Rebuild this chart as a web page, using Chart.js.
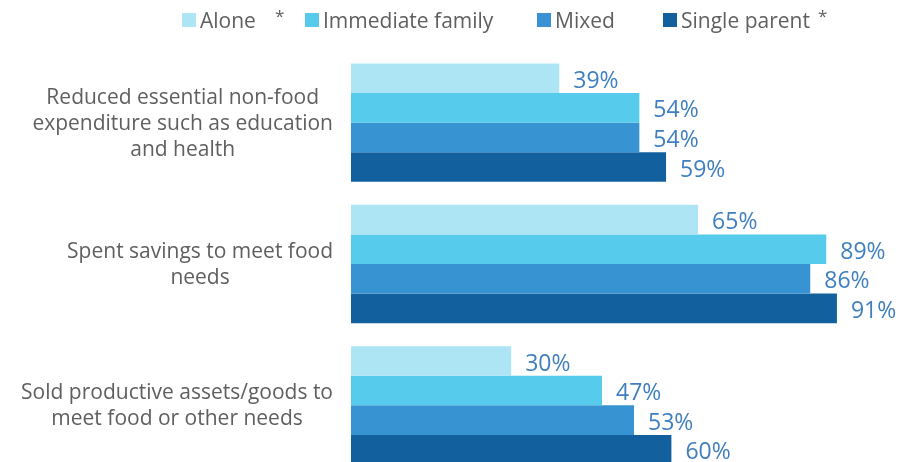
<!DOCTYPE html>
<html>
<head>
<meta charset="utf-8">
<script src="https://cdn.jsdelivr.net/npm/chart.js@4.4.0/dist/chart.umd.min.js"></script>
<style>
    html, body { margin: 0; padding: 0; background: #fff; overflow: hidden; }
    #wrap { position: relative; width: 914px; height: 476px; }
    #legend { position: absolute; top: 0; left: 0; width: 914px; height: 40px;
              font-family: 'Open Sans', sans-serif; font-size: 21px; color: #5f5f5f; }
    .legend-item { position: absolute; top: 0; height: 40px; display: flex; align-items: center; white-space: nowrap; }
    .legend-box { width: 14px; height: 14px; margin-right: 4px; }
    .legend-star { position: relative; top: -5px; font-size: 17px; }
</style>
</head>
<body>
<div id="wrap">
    <canvas id="chart" width="914" height="476"></canvas>
    <div id="legend"></div>
</div>
<script>
// ===== data =====
const categories = [
    ['Reduced essential non-food', 'expenditure such as education', 'and health'],
    ['Spent savings to meet food', 'needs'],
    ['Sold productive assets/goods to', 'meet food or other needs']
];
const seriesNames = ['Alone', 'Immediate family', 'Mixed', 'Single parent'];
const seriesStars = [true, false, false, true];
const aloneValues = [39, 65, 30];
const familyValues = [54, 89, 47];
const mixedValues = [54, 86, 53];
const singleParentValues = [59, 91, 60];

const seriesColors = ['#ade5f5', '#57cbec', '#3893d2', '#13609e'];

// ===== legend (html) =====
const legendLeft = [182, 305, 537, 663];
const starGap = [19, 0, 0, 8];
const legendEl = document.getElementById('legend');
seriesNames.forEach((name, i) => {
    const item = document.createElement('div');
    item.className = 'legend-item';
    item.style.left = legendLeft[i] + 'px';
    let html = `<div class="legend-box" style="background:${seriesColors[i]}"></div><span>${name}</span>`;
    if (seriesStars[i]) {
        html += `<span class="legend-star" style="margin-left:${starGap[i]}px">*</span>`;
    }
    item.innerHTML = html;
    legendEl.appendChild(item);
});

// value labels at the end of each bar
const valueLabels = {
    id: 'valueLabels',
    afterDatasetsDraw(chart) {
        const ctx = chart.ctx;
        ctx.save();
        ctx.font = '23px "Open Sans"';
        ctx.fillStyle = '#3f7fbf';
        ctx.textAlign = 'left';
        ctx.textBaseline = 'middle';
        chart.data.datasets.forEach((ds, i) => {
            chart.getDatasetMeta(i).data.forEach((bar, j) => {
                ctx.fillText(ds.data[j] + '%', bar.x + 14, bar.y + 3);
            });
        });
        ctx.restore();
    }
};

// category labels: each block right aligned, lines centred inside it
const categoryLabels = {
    id: 'categoryLabels',
    afterDraw(chart) {
        const ctx = chart.ctx;
        const yScale = chart.scales.y;
        const right = chart.chartArea.left - 18;
        ctx.save();
        ctx.font = '21px "Open Sans"';
        ctx.fillStyle = '#5f5f5f';
        ctx.textAlign = 'center';
        ctx.textBaseline = 'middle';
        categories.forEach((lines, i) => {
            const cy = yScale.getPixelForValue(i);
            const w = Math.max(...lines.map(l => ctx.measureText(l).width));
            const cx = right - w / 2;
            const top = cy - (lines.length - 1) * 13 + 1;
            lines.forEach((l, k) => ctx.fillText(l, cx, top + k * 26));
        });
        ctx.restore();
    }
};

const allValues = [aloneValues, familyValues, mixedValues, singleParentValues];

new Chart(document.getElementById('chart').getContext('2d'), {
    type: 'bar',
    data: {
        labels: categories.map(c => c.join(' ')),
        datasets: seriesNames.map((name, i) => ({
            label: name,
            data: allValues[i],
            backgroundColor: seriesColors[i],
            borderWidth: 0,
            barPercentage: 1,
            categoryPercentage: 0.837
        }))
    },
    options: {
        indexAxis: 'y',
        responsive: false,
        animation: false,
        layout: { padding: { left: 351, right: 29, top: 52, bottom: 0 } },
        scales: {
            x: { display: false, min: 0, max: 100 },
            y: { display: false }
        },
        plugins: {
            legend: { display: false },
            tooltip: { enabled: false }
        }
    },
    plugins: [valueLabels, categoryLabels]
});
</script>
</body>
</html>
